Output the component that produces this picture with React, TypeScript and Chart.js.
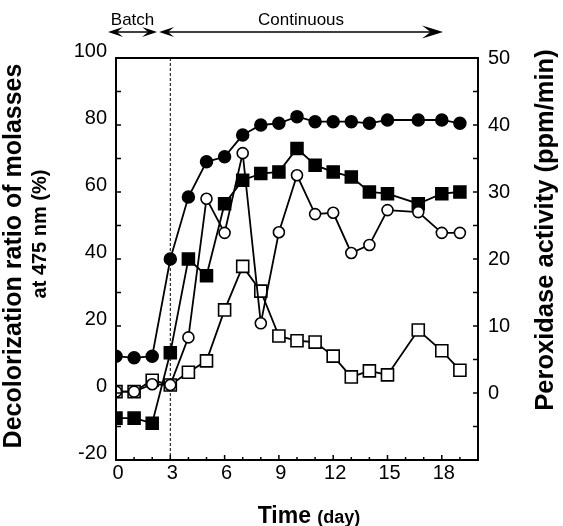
import React, { useEffect, useRef } from "react";
import { Chart, registerables } from "chart.js";

Chart.register(...registerables);

// ---- data ----
const DAYS = [0, 1, 2, 3, 4, 5, 6, 7, 8, 9, 10, 11, 12, 13, 14, 15, 16.7, 18, 19];

// Decolorization ratio (%), left axis
const FILLED_CIRCLE_VALUES = [11, 10.5, 11, 40, 58.5, 69, 70.5, 77, 80, 80.5, 82.5, 81, 81, 81, 80.5, 81.5, 81.5, 81.5, 80.5];
const FILLED_SQUARE_VALUES = [-7.5, -7.5, -9, 12, 40, 35, 56.5, 63.5, 65.5, 66, 73, 68, 66, 64.5, 60, 59.5, 56.5, 59.5, 60];

// Peroxidase activity (ppm/min), right axis
const OPEN_CIRCLE_VALUES = [0.2, 0.2, 1.3, 1.2, 8.3, 29, 23.9, 35.8, 10.4, 24, 32.5, 26.7, 26.9, 20.9, 22.1, 27.3, 27, 23.9, 23.9];
const OPEN_SQUARE_VALUES = [0.2, 0.2, 1.9, 1.2, 3.1, 4.8, 12.4, 18.9, 15.2, 8.5, 7.8, 7.6, 5.5, 2.4, 3.3, 2.7, 9.4, 6.3, 3.4];

// axes
const X_TICKS = [0, 3, 6, 9, 12, 15, 18];
const LEFT_TICKS = [-20, 0, 20, 40, 60, 80, 100];
const RIGHT_TICKS = [0, 10, 20, 30, 40, 50];
const PHASE_SWITCH_DAY = 3;

const FONT = "'Liberation Sans', Arial, Helvetica, sans-serif";

const toPoints = (xs: number[], ys: number[]) => xs.map((x, i) => ({ x, y: ys[i] }));

function arrowHead(ctx: CanvasRenderingContext2D, tipX: number, y: number, dir: number, L: number, H: number) {
  ctx.beginPath();
  ctx.moveTo(tipX, y);
  ctx.lineTo(tipX - dir * L, y - H);
  ctx.lineTo(tipX - dir * L * 0.6, y);
  ctx.lineTo(tipX - dir * L, y + H);
  ctx.closePath();
  ctx.fill();
}

const decor = {
  id: "decor",
  beforeDatasetsDraw(chart: any) {
    const { ctx, chartArea: a, scales } = chart;
    const px = scales.x.getPixelForValue(PHASE_SWITCH_DAY);
    ctx.save();
    ctx.strokeStyle = "#000";
    ctx.lineWidth = 1;
    ctx.setLineDash([3, 2]);
    ctx.beginPath();
    ctx.moveTo(px, a.top);
    ctx.lineTo(px, a.bottom);
    ctx.stroke();
    ctx.restore();
  },
  afterDraw(chart: any) {
    const { ctx, chartArea: a, scales } = chart;
    const x = scales.x, y = scales.y, y2 = scales.y2;
    ctx.save();
    ctx.strokeStyle = "#000";
    ctx.fillStyle = "#000";
    // frame
    ctx.lineWidth = 2;
    ctx.strokeRect(a.left, a.top, a.right - a.left, a.bottom - a.top);
    // inward tick marks
    ctx.lineWidth = 1.5;
    ctx.beginPath();
    for (let d = 1; d < 20; d++) {
      const p = x.getPixelForValue(d);
      const len = d % 3 === 0 ? 5 : 3;
      ctx.moveTo(p, a.bottom);
      ctx.lineTo(p, a.bottom - len);
    }
    for (let v = -10; v < 100; v += 10) {
      const p = y.getPixelForValue(v);
      ctx.moveTo(a.left, p);
      ctx.lineTo(a.left + 5, p);
    }
    for (let v = -5; v < 50; v += 5) {
      const p = y2.getPixelForValue(v);
      ctx.moveTo(a.right, p);
      ctx.lineTo(a.right - 5, p);
    }
    ctx.stroke();

    // phase arrows
    const ay = 32;
    const b0 = x.getPixelForValue(-0.44);
    const b1 = x.getPixelForValue(2.27);
    const c0 = x.getPixelForValue(2.38);
    const c1 = x.getPixelForValue(18.07);
    ctx.lineWidth = 1.3;
    ctx.beginPath();
    ctx.moveTo(b0 + 8, ay);
    ctx.lineTo(b1 - 8, ay);
    ctx.moveTo(c0 + 8, ay);
    ctx.lineTo(c1 - 12, ay);
    ctx.stroke();
    arrowHead(ctx, b0, ay, -1, 15, 5);
    arrowHead(ctx, b1, ay, 1, 15, 5);
    arrowHead(ctx, c0, ay, -1, 15, 5);
    arrowHead(ctx, c1, ay, 1, 21, 6.5);

    ctx.font = `17px ${FONT}`;
    ctx.textAlign = "center";
    ctx.textBaseline = "alphabetic";
    ctx.fillText("Batch", (b0 + b1) / 2, 25);
    ctx.fillText("Continuous", (c0 + 8 + c1) / 2 - 4, 25);

    // left title (two lines)
    ctx.save();
    ctx.translate(21, 256);
    ctx.rotate(-Math.PI / 2);
    ctx.font = `bold 25px ${FONT}`;
    ctx.fillText("Decolorization ratio of molasses", 0, 0);
    ctx.restore();
    ctx.save();
    ctx.translate(46, 234);
    ctx.rotate(-Math.PI / 2);
    ctx.font = `bold 20px ${FONT}`;
    ctx.fillText("at 475 nm (%)", 0, 0);
    ctx.restore();

    // right title
    ctx.save();
    ctx.translate(553, 230);
    ctx.rotate(-Math.PI / 2);
    ctx.font = `bold 25.5px ${FONT}`;
    ctx.fillText("Peroxidase activity (ppm/min)", 0, 0);
    ctx.restore();

    // x title: "Time (day)"
    ctx.textAlign = "left";
    ctx.font = `bold 23px ${FONT}`;
    const t1 = "Time ";
    const w1 = ctx.measureText(t1).width;
    ctx.font = `bold 18px ${FONT}`;
    const t2 = "(day)";
    const w2 = ctx.measureText(t2).width;
    const startX = 309 - (w1 + w2) / 2;
    ctx.font = `bold 23px ${FONT}`;
    ctx.fillText(t1, startX, 523);
    ctx.font = `bold 18px ${FONT}`;
    ctx.fillText(t2, startX + w1, 523);

    ctx.restore();
  },
};

export default function App() {
  const ref = useRef<HTMLCanvasElement>(null);
  useEffect(() => {
    if (!ref.current) return;
    const tickFont = { family: FONT, size: 20 };
    const chart = new Chart(ref.current, {
      type: "line",
      data: {
        datasets: [
          {
            label: "Decolorization (filled circles)",
            data: toPoints(DAYS, FILLED_CIRCLE_VALUES),
            yAxisID: "y",
            borderColor: "#000",
            backgroundColor: "#000",
            borderWidth: 1.8,
            pointStyle: "circle",
            pointRadius: 6,
            pointBorderWidth: 1.5,
            pointBackgroundColor: "#000",
            pointBorderColor: "#000",
            order: 0,
          },
          {
            label: "Peroxidase (open circles)",
            data: toPoints(DAYS, OPEN_CIRCLE_VALUES),
            yAxisID: "y2",
            borderColor: "#000",
            backgroundColor: "#fff",
            borderWidth: 1.8,
            pointStyle: "circle",
            pointRadius: 5.5,
            pointBorderWidth: 1.6,
            pointBackgroundColor: "#fff",
            pointBorderColor: "#000",
            order: 1,
          },
          {
            label: "Decolorization (filled squares)",
            data: toPoints(DAYS, FILLED_SQUARE_VALUES),
            yAxisID: "y",
            borderColor: "#000",
            backgroundColor: "#000",
            borderWidth: 1.8,
            pointStyle: "rect",
            pointRadius: 8.5,
            pointBorderWidth: 1.5,
            pointBackgroundColor: "#000",
            pointBorderColor: "#000",
            order: 2,
          },
          {
            label: "Peroxidase (open squares)",
            data: toPoints(DAYS, OPEN_SQUARE_VALUES),
            yAxisID: "y2",
            borderColor: "#000",
            backgroundColor: "#fff",
            borderWidth: 1.8,
            pointStyle: "rect",
            pointRadius: 8.5,
            pointBorderWidth: 1.6,
            pointBackgroundColor: "#fff",
            pointBorderColor: "#000",
            order: 3,
          },
        ],
      },
      options: {
        responsive: false,
        animation: false,
        layout: { padding: { top: 58, left: 0, right: 0, bottom: 0 } },
        plugins: { legend: { display: false }, tooltip: { enabled: false } },
        scales: {
          x: {
            type: "linear",
            min: 0,
            max: 20,
            grid: { display: false, drawTicks: false },
            border: { display: false },
            afterBuildTicks: (s: any) => { s.ticks = X_TICKS.map((v) => ({ value: v })); },
            afterFit: (s: any) => { s.height = 66; },
            ticks: { color: "#000", font: tickFont, padding: 1, labelOffset: 2, maxRotation: 0, autoSkip: false },
          },
          y: {
            type: "linear",
            position: "left",
            min: -20,
            max: 100,
            grid: { display: false, drawTicks: false },
            border: { display: false },
            afterBuildTicks: (s: any) => { s.ticks = LEFT_TICKS.map((v) => ({ value: v })); },
            afterFit: (s: any) => { s.width = 116; },
            ticks: { color: "#000", font: tickFont, padding: 9, labelOffset: -7 },
          },
          y2: {
            type: "linear",
            position: "right",
            min: -10,
            max: 50,
            grid: { display: false, drawTicks: false },
            border: { display: false },
            afterBuildTicks: (s: any) => { s.ticks = RIGHT_TICKS.map((v) => ({ value: v })); },
            afterFit: (s: any) => { s.width = 85; },
            ticks: { color: "#000", font: tickFont, padding: 10 },
          },
        },
      },
      plugins: [decor],
    } as any);
    return () => chart.destroy();
  }, []);

  return (
    <div style={{ position: "fixed", left: 0, top: 0, width: 563, height: 526, background: "#fff" }}>
      <canvas ref={ref} width={563} height={526} style={{ width: 563, height: 526 }} />
    </div>
  );
}
